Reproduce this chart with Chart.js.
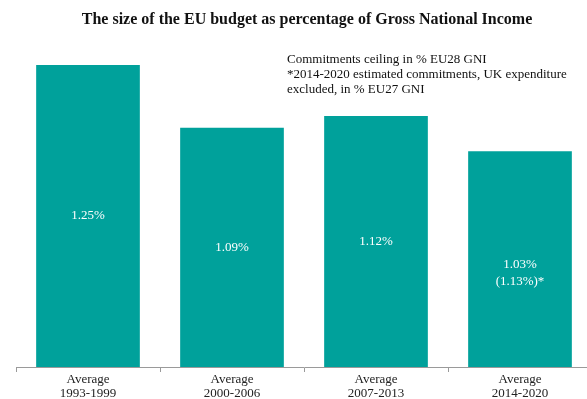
<!DOCTYPE html>
<html>
<head>
<meta charset="utf-8">
<script src="https://cdn.jsdelivr.net/npm/chart.js@4"></script>
<style>
  html, body { margin: 0; padding: 0; background: #fff; overflow: hidden; }
  canvas { display: block; }
</style>
</head>
<body>
<canvas id="budgetChart" width="600" height="412"></canvas>
<script>
// -------------------------------
// DATA
// -------------------------------
const periods = [["Average", "1993-1999"], ["Average", "2000-2006"], ["Average", "2007-2013"], ["Average", "2014-2020"]];
const gniShare = [1.25, 1.09, 1.12, 1.03];
const barLabels = [["1.25%"], ["1.09%"], ["1.12%"], ["1.03%", "(1.13%)*"]];
const titleText = "The size of the EU budget as percentage of Gross National Income";
const noteLines = [
    "Commitments ceiling in % EU28 GNI",
    "*2014-2020 estimated commitments, UK expenditure",
    "excluded, in % EU27 GNI"
];

// -------------------------------
// PLUGINS
// -------------------------------
const textPlugin = {
    id: "textPlugin",
    afterDatasetsDraw(chart) {
        const ctx = chart.ctx;
        const bottom = chart.chartArea.bottom;
        ctx.save();

        // labels in the bars (axis does not start at zero, so use the chart bottom)
        ctx.fillStyle = "#ffffff";
        ctx.font = "13px 'Liberation Serif', serif";
        ctx.textAlign = "center";
        ctx.textBaseline = "middle";
        chart.getDatasetMeta(0).data.forEach((bar, i) => {
            const mid = (bar.y + Math.min(bar.base, bottom)) / 2;
            const lines = barLabels[i];
            const start = lines.length > 1 ? mid + 5 : mid;
            lines.forEach((t, j) => ctx.fillText(t, bar.x, start + j * 17));
        });

        // title
        ctx.fillStyle = "#111111";
        ctx.font = "bold 16px 'Liberation Serif', serif";
        ctx.fillText(titleText, 307, 20);

        // note
        ctx.font = "13px 'Liberation Serif', serif";
        ctx.textAlign = "left";
        noteLines.forEach((t, j) => ctx.fillText(t, 287, 60 + j * 15));

        ctx.restore();
    }
};

// -------------------------------
// CHART
// -------------------------------
new Chart(document.getElementById("budgetChart"), {
    type: "bar",
    data: {
        labels: periods,
        datasets: [{
            data: gniShare,
            backgroundColor: "#00a19b",
            borderWidth: 0,
            categoryPercentage: 1.0,
            barPercentage: 0.72
        }]
    },
    options: {
        responsive: false,
        animation: false,
        layout: { padding: { top: 38, left: 16, right: 8, bottom: 5 } },
        plugins: { legend: { display: false }, tooltip: { enabled: false }, title: { display: false } },
        scales: {
            x: {
                grid: { drawOnChartArea: false, drawTicks: true, tickLength: 5, color: "#9a9a9a" },
                border: { display: true, color: "#9a9a9a" },
                ticks: {
                    color: "#222222",
                    padding: 0,
                    maxRotation: 0,
                    font: { family: "'Liberation Serif', serif", size: 13, lineHeight: 1.1 }
                },
                afterFit(scale) { scale.height = 40; }
            },
            y: {
                display: false,
                min: 0.48,
                max: 1.319
            }
        }
    },
    plugins: [textPlugin]
});
</script>
</body>
</html>
